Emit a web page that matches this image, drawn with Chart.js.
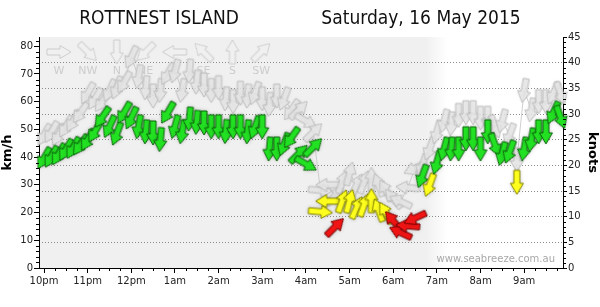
<!DOCTYPE html>
<html>
<head>
<meta charset="utf-8">
<title>Rottnest Island wind</title>
<script src="https://cdn.jsdelivr.net/npm/chart.js@4.4.1/dist/chart.umd.min.js"></script>
<style>
  html, body { margin: 0; padding: 0; background: #fff; overflow: hidden; }
  #wrap { position: relative; width: 600px; height: 307px; }
  .title {
    position: absolute; top: 5px; line-height: 24px; white-space: nowrap;
    font-family: "DejaVu Sans Condensed", "DejaVu Sans", sans-serif; font-stretch: condensed;
    font-size: 19px; color: #111; transform: translateX(-50%);
  }
</style>
</head>
<body>
<div id="wrap">
  <canvas id="wind-chart" width="600" height="307"></canvas>
  <div class="title" style="left:159px">ROTTNEST ISLAND</div>
  <div class="title" style="left:421px">Saturday, 16 May 2015</div>
</div>
<script>
const times = [
  '22:00', '22:10', '22:20', '22:30', '22:40', '22:50',
  '23:00', '23:10', '23:20', '23:30', '23:40', '23:50',
  '00:00', '00:10', '00:20', '00:30', '00:40', '00:50',
  '01:00', '01:10', '01:20', '01:30', '01:40', '01:50',
  '02:00', '02:10', '02:20', '02:30', '02:40', '02:50',
  '03:00', '03:10', '03:20', '03:30', '03:40', '03:50',
  '04:00', '04:10', '04:20', '04:30', '04:40', '04:50',
  '05:00', '05:10', '05:20', '05:30', '05:40', '05:50',
  '06:00', '06:10', '06:20', '06:30', '06:40', '06:50',
  '07:00', '07:10', '07:20', '07:30', '07:40', '07:50',
  '08:00', '08:10', '08:20', '08:30', '08:40', '08:50',
  '09:00', '09:10', '09:20', '09:30', '09:40', '09:50'
];

// average wind, km/h
const avgKmh = [
  39.6, 40.1, 41.0, 42.6, 43.3, 44.4,
  46.2, 49.2, 54.4, 51.0, 48.4, 56.0,
  54.1, 50.9, 49.1, 48.7, 46.3, 56.0,
  50.9, 49.1, 53.7, 52.5, 52.3, 50.9,
  50.9, 49.2, 50.9, 50.9, 49.1, 50.7,
  50.9, 42.9, 42.9, 44.6, 47.0, 41.2,
  37.5, 43.6, 20.3, 24.1, 14.8, 24.1,
  24.1, 21.8, 22.7, 24.3, 20.9, 19.9,
  17.0, 12.8, 15.2, 18.0, 33.1, 29.9,
  38.0, 42.9, 42.9, 42.9, 46.6, 46.6,
  42.9, 49.1, 44.4, 41.2, 41.9, 30.9,
  42.9, 46.2, 49.1, 49.1, 56.0, 54.4
];

// gusts, km/h
const gustKmh = [
  48, 49, 48, 51, 53, 56,
  63, 61, 60, 64, 65, 67,
  76, 69, 65, 62, 64, 70,
  71, 64, 71, 67, 66, 64,
  65, 61, 60, 63, 62, 63,
  61, 59, 62, 61, 57, 57,
  53, 49, 28, 30, 26, 31,
  34, 30, 31, 32, 30, 28,
  25, 24, 29, 36, 37, 43,
  49, 53, 52, 55, 56, 56,
  54, 54, 51, 53, 48, 39,
  64, 57, 60, 60, 63, 63
];

// direction the wind blows from, degrees
const dirFrom = [
  30, 30, 30, 30, 30, 35,
  30, 30, 35, 25, 20, 30,
  25, 10, 5, 0, 5, 30,
  15, 10, 5, 5, 0, 0,
  0, 5, 0, 0, 5, 20,
  0, 5, 0, 20, 35, 225,
  300, 225, 275, 90, 225, 200,
  195, 205, 200, 180, 160, 150,
  140, 115, 95, 65, 20, 20,
  15, 15, 5, 0, 0, 0,
  0, 0, 340, 15, 20, 0,
  10, 10, 0, 0, 25, 340
];

const tickHours = [22, 23, 24, 25, 26, 27, 28, 29, 30, 31, 32, 33];
const tickLabels = ['10pm', '11pm', '12pm', '1am', '2am', '3am', '4am', '5am', '6am', '7am', '8am', '9am'];
const kmhTicks = [0, 10, 20, 30, 40, 50, 60, 70, 80];
const knotTicks = [0, 5, 10, 15, 20, 25, 30, 35, 40, 45];
const compassLabels = ['W', 'NW', 'N', 'NE', 'E', 'SE', 'S', 'SW'];
const compassDirs = [270, 315, 0, 45, 90, 135, 180, 225];

const KMH_PER_KNOT = 1.852;
const TOP_KNOTS = 45;
const NIGHT_FADE = [30.75, 31.25];

function toHours(t) {
  const [h, m] = t.split(':').map(Number);
  return (h < 12 ? h + 24 : h) + m / 60;
}

// arrow pointing up, drawn into a small canvas used as point style
function makeArrow(fill, stroke, shadow) {
  const c = document.createElement('canvas');
  c.width = 32;
  c.height = 32;
  const g = c.getContext('2d');
  g.translate(16, 16);
  g.beginPath();
  g.moveTo(0, -12);
  g.lineTo(6.5, -1);
  g.lineTo(3, -1);
  g.lineTo(3, 12);
  g.lineTo(-3, 12);
  g.lineTo(-3, -1);
  g.lineTo(-6.5, -1);
  g.closePath();
  if (shadow) {
    g.shadowColor = shadow;
    g.shadowBlur = 4;
  }
  g.fillStyle = fill;
  g.fill();
  g.shadowColor = 'transparent';
  g.lineWidth = 1;
  g.strokeStyle = stroke;
  g.stroke();
  return c;
}

const arrows = {
  green: makeArrow('#22e022', '#0b650b', 'rgba(0,0,0,0.25)'),
  yellow: makeArrow('#ffff1e', '#858500', 'rgba(0,0,0,0.25)'),
  red: makeArrow('#f01414', '#780000', 'rgba(0,0,0,0.25)'),
  gust: makeArrow('rgba(228,228,228,0.85)', 'rgba(185,185,185,0.9)', 'rgba(0,0,0,0.08)'),
  legend: makeArrow('rgba(240,240,240,0.9)', '#cdcdcd', null)
};

// colour by strength: under 10 kn red, under 17 kn yellow
function arrowFor(kmh) {
  const kn = kmh / KMH_PER_KNOT;
  if (kn < 10) return arrows.red;
  if (kn < 17) return arrows.yellow;
  return arrows.green;
}

const nightShade = {
  id: 'nightShade',
  beforeDraw(chart) {
    const { ctx, chartArea: a, scales: { x } } = chart;
    const x1 = x.getPixelForValue(NIGHT_FADE[0]);
    const x2 = x.getPixelForValue(NIGHT_FADE[1]);
    ctx.save();
    ctx.fillStyle = '#f0f0f0';
    ctx.fillRect(a.left, a.top, x1 - a.left, a.height);
    const grad = ctx.createLinearGradient(x1, 0, x2, 0);
    grad.addColorStop(0, '#f0f0f0');
    grad.addColorStop(1, '#ffffff');
    ctx.fillStyle = grad;
    ctx.fillRect(x1, a.top, x2 - x1, a.height);
    ctx.restore();
  }
};

const compass = {
  id: 'compass',
  beforeDatasetsDraw(chart) {
    const { ctx, chartArea: a } = chart;
    ctx.save();
    ctx.font = '11px "DejaVu Sans"';
    ctx.textAlign = 'center';
    ctx.textBaseline = 'middle';
    compassLabels.forEach((lab, i) => {
      const cx = a.left + 20 + i * 28.9;
      ctx.save();
      ctx.translate(cx, a.top + 15);
      ctx.rotate((compassDirs[i] + 180) * Math.PI / 180);
      ctx.drawImage(arrows.legend, -16, -16);
      ctx.restore();
      ctx.fillStyle = '#cccccc';
      ctx.fillText(lab, cx, a.top + 34);
    });
    ctx.font = '10px "DejaVu Sans"';
    ctx.textAlign = 'right';
    ctx.textBaseline = 'alphabetic';
    ctx.fillStyle = '#a8a8a8';
    ctx.fillText('www.seabreeze.com.au', a.right - 8, a.bottom - 6);
    ctx.restore();
  }
};

const minorTicks = {
  id: 'minorTicks',
  afterDraw(chart) {
    const { ctx, chartArea: a, scales: { x, y, y2 } } = chart;
    ctx.save();
    ctx.strokeStyle = '#000';
    ctx.lineWidth = 1;
    ctx.beginPath();
    for (let q = Math.ceil(x.min * 4); q <= x.max * 4; q++) {
      if (q % 4 === 0) continue;
      const px = Math.round(x.getPixelForValue(q / 4)) + 0.5;
      ctx.moveTo(px, a.bottom);
      ctx.lineTo(px, a.bottom + 3);
    }
    for (let v = 2; v < y.max; v += 2) {
      if (v % 10 === 0) continue;
      const py = Math.round(y.getPixelForValue(v)) + 0.5;
      ctx.moveTo(a.left - 3, py);
      ctx.lineTo(a.left, py);
    }
    for (let v = 1; v < TOP_KNOTS; v++) {
      if (v % 5 === 0) continue;
      const py = Math.round(y2.getPixelForValue(v)) + 0.5;
      ctx.moveTo(a.right, py);
      ctx.lineTo(a.right + 3, py);
    }
    ctx.stroke();
    ctx.restore();
  }
};

Chart.defaults.font.family = '"DejaVu Sans", sans-serif';
Chart.defaults.font.size = 10;
Chart.defaults.color = '#222';

const rotationOf = c => (c.dataIndex == null ? 0 : dirFrom[c.dataIndex] + 180);

function loadChart() {
  const ctx = document.getElementById('wind-chart').getContext('2d');

  new Chart(ctx, {
    type: 'scatter',
    data: {
      datasets: [
        {
          label: 'Average',
          data: times.map((t, i) => ({ x: toHours(t), y: avgKmh[i] })),
          yAxisID: 'y',
          pointStyle: c => (c.dataIndex == null ? 'circle' : arrowFor(avgKmh[c.dataIndex])),
          rotation: rotationOf,
          radius: 10,
          hoverRadius: 10,
          order: 1,
          clip: false
        },
        {
          label: 'Gust',
          data: times.map((t, i) => ({ x: toHours(t), y: gustKmh[i] })),
          yAxisID: 'y',
          pointStyle: arrows.gust,
          rotation: rotationOf,
          radius: 10,
          hoverRadius: 10,
          showLine: true,
          borderColor: 'rgba(195,195,195,0.8)',
          borderWidth: 1,
          order: 2,
          clip: false
        }
      ]
    },
    options: {
      responsive: false,
      animation: false,
      events: [],
      layout: { padding: { top: 37 } },
      plugins: {
        legend: { display: false },
        tooltip: { enabled: false }
      },
      scales: {
        x: {
          type: 'linear',
          min: 21.885,
          max: 33.89,
          afterBuildTicks: s => { s.ticks = tickHours.map(v => ({ value: v })); },
          afterFit: s => { s.height = 39; },
          ticks: {
            callback: (v, i) => tickLabels[i],
            autoSkip: false,
            maxRotation: 0,
            padding: 2
          },
          grid: { drawOnChartArea: false, tickLength: 5, tickColor: '#000' },
          border: { color: '#000' }
        },
        y: {
          position: 'left',
          min: 0,
          max: TOP_KNOTS * KMH_PER_KNOT,
          afterBuildTicks: s => { s.ticks = kmhTicks.map(v => ({ value: v })); },
          afterFit: s => { s.width = 39; },
          ticks: { padding: 1 },
          grid: { drawOnChartArea: false, tickLength: 5, tickColor: '#000' },
          border: { color: '#000' },
          title: {
            display: true,
            text: 'km/h',
            color: '#000',
            padding: 0,
            font: { size: 13, weight: 'bold' }
          }
        },
        y2: {
          position: 'right',
          min: 0,
          max: TOP_KNOTS,
          afterBuildTicks: s => { s.ticks = knotTicks.map(v => ({ value: v })); },
          afterFit: s => { s.width = 37; },
          ticks: { padding: 1 },
          grid: {
            drawOnChartArea: true,
            color: c => (c.tick && c.tick.value > 0 && c.tick.value < TOP_KNOTS ? '#8c8c8c' : 'rgba(0,0,0,0)'),
            tickColor: '#000',
            tickLength: 4
          },
          border: { color: '#000', dash: [1, 2] },
          title: {
            display: true,
            text: 'knots',
            color: '#000',
            padding: 0,
            font: { size: 13, weight: 'bold' }
          }
        }
      }
    },
    plugins: [nightShade, compass, minorTicks]
  });
}

document.addEventListener('DOMContentLoaded', () => {
  loadChart();
});
</script>
</body>
</html>
